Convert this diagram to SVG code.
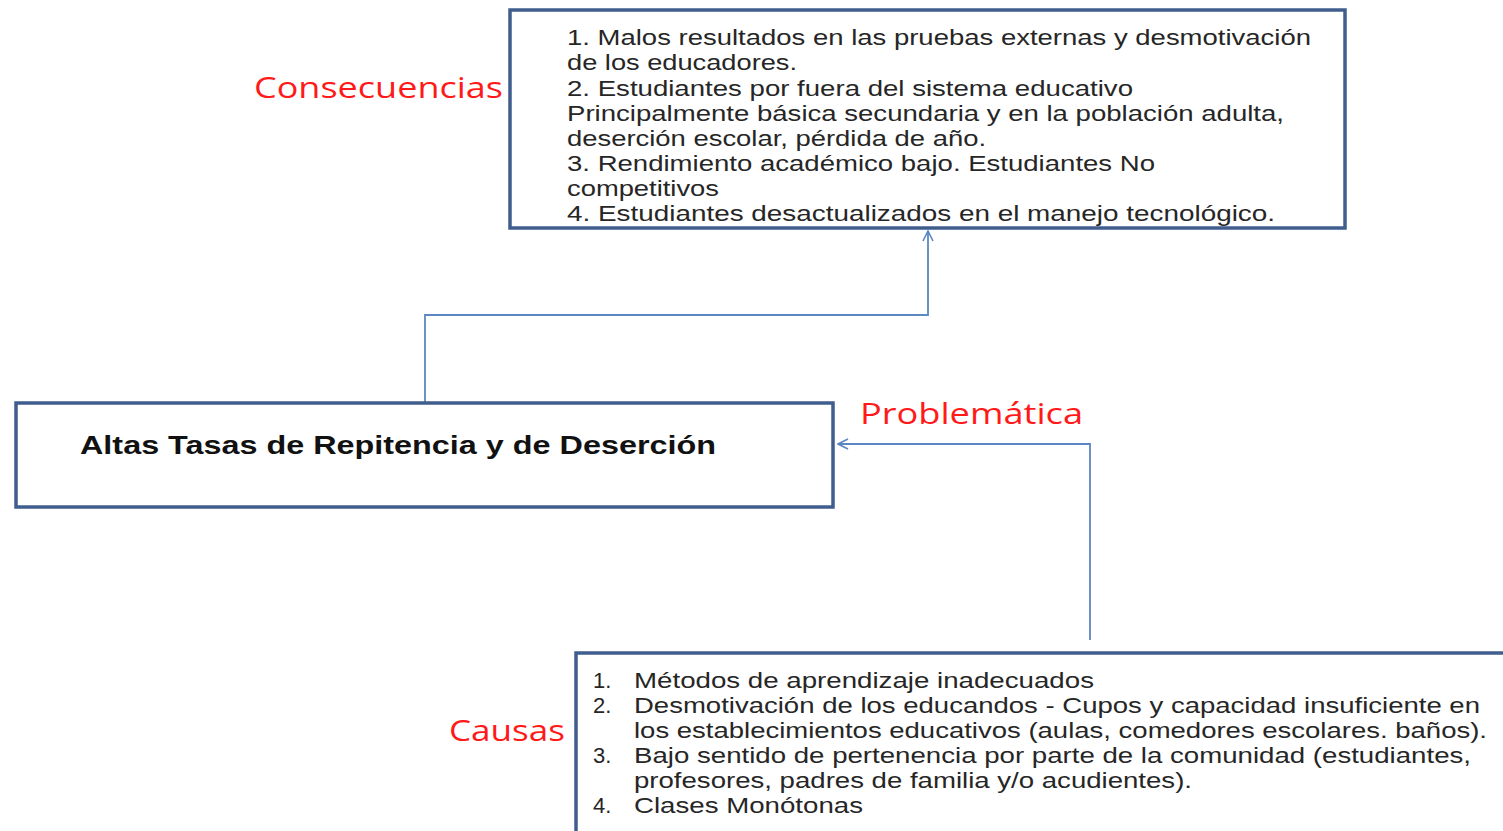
<svg xmlns="http://www.w3.org/2000/svg" width="1503" height="831" viewBox="0 0 1503 831">
<defs>
<style>
.box{fill:#fff;stroke:#3F5E8D;stroke-width:3.5}
.t{font-family:"Liberation Sans",Arial,sans-serif;font-size:22px;fill:#262626}
.title{font-family:"Liberation Sans",Arial,sans-serif;font-size:25px;font-weight:bold;fill:#111}
.lbl{font-family:"Open Sans","Noto Sans",sans-serif;font-size:30px;fill:#FF1A1A}
.conn{fill:none;stroke:#5B87C2;stroke-width:1.8}
</style>
<marker id="arr" viewBox="0 0 12 12" refX="11" refY="6" markerWidth="12" markerHeight="12" markerUnits="userSpaceOnUse" orient="auto">
<path d="M1,1 L11,6 L1,11" fill="none" stroke="#5B87C2" stroke-width="1.6"/>
</marker>
</defs>
<rect width="1503" height="831" fill="#fff"/>
<g id="connectors">
<path class="conn" d="M425,403 V315 H928 V231" marker-end="url(#arr)"/>
<path class="conn" d="M1090,640 V444 H838" marker-end="url(#arr)"/>
</g>
<g id="consecuencias">
<rect class="box" x="510" y="10" width="835" height="218"/>
<text class="t" x="567" y="45" textLength="744" lengthAdjust="spacingAndGlyphs">1. Malos resultados en las pruebas externas y desmotivación</text>
<text class="t" x="567" y="70" textLength="230" lengthAdjust="spacingAndGlyphs">de los educadores.</text>
<text class="t" x="567" y="96" textLength="566" lengthAdjust="spacingAndGlyphs">2. Estudiantes por fuera del sistema educativo</text>
<text class="t" x="567" y="121" textLength="717" lengthAdjust="spacingAndGlyphs">Principalmente básica secundaria y en la población adulta,</text>
<text class="t" x="567" y="146" textLength="419" lengthAdjust="spacingAndGlyphs">deserción escolar, pérdida de año.</text>
<text class="t" x="567" y="171" textLength="588" lengthAdjust="spacingAndGlyphs">3. Rendimiento académico bajo. Estudiantes No</text>
<text class="t" x="567" y="196" textLength="152" lengthAdjust="spacingAndGlyphs">competitivos</text>
<text class="t" x="567" y="221" textLength="708" lengthAdjust="spacingAndGlyphs">4.  Estudiantes desactualizados en el manejo tecnológico.</text>
</g>
<g id="label-consecuencias">
<text class="lbl" x="254" y="98" textLength="249" lengthAdjust="spacingAndGlyphs">Consecuencias</text>
</g>
<g id="problema">
<rect class="box" x="16" y="403" width="817" height="104"/>
<text class="title" x="80" y="454" textLength="636" lengthAdjust="spacingAndGlyphs">Altas Tasas de Repitencia y de Deserción</text>
</g>
<g id="label-problematica">
<text class="lbl" x="860" y="424" textLength="223" lengthAdjust="spacingAndGlyphs">Problemática</text>
</g>
<g id="causas">
<rect class="box" x="576" y="653" width="940" height="200"/>
<text class="t" x="593" y="688">1.</text>
<text class="t" x="634" y="688" textLength="460" lengthAdjust="spacingAndGlyphs">Métodos de aprendizaje inadecuados</text>
<text class="t" x="593" y="713">2.</text>
<text class="t" x="634" y="713" textLength="846" lengthAdjust="spacingAndGlyphs">Desmotivación de los educandos - Cupos y capacidad insuficiente en</text>
<text class="t" x="634" y="738" textLength="853" lengthAdjust="spacingAndGlyphs">los establecimientos educativos (aulas, comedores escolares. baños).</text>
<text class="t" x="593" y="763">3.</text>
<text class="t" x="634" y="763" textLength="837" lengthAdjust="spacingAndGlyphs">Bajo sentido de pertenencia por parte de la comunidad (estudiantes,</text>
<text class="t" x="634" y="788" textLength="558" lengthAdjust="spacingAndGlyphs">profesores, padres de familia y/o acudientes).</text>
<text class="t" x="593" y="813">4.</text>
<text class="t" x="634" y="813" textLength="229" lengthAdjust="spacingAndGlyphs">Clases Monótonas</text>
</g>
<g id="label-causas">
<text class="lbl" x="449" y="741" textLength="116" lengthAdjust="spacingAndGlyphs">Causas</text>
</g>
</svg>
